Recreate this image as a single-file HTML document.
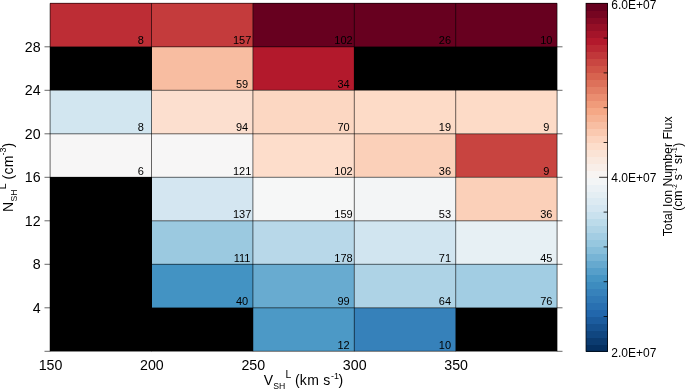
<!DOCTYPE html>
<html><head><meta charset="utf-8"><title>Total Ion Number Flux</title>
<style>html,body{margin:0;padding:0;background:#fff}svg{display:block}text{font-family:"Liberation Sans",Arial,Helvetica,sans-serif;fill:#000}</style></head>
<body>
<svg width="685" height="389" viewBox="0 0 685 389">
<rect x="0" y="0" width="685" height="389" fill="#fff"/>
<g shape-rendering="crispEdges">
<rect x="50.10" y="3.30" width="101.70" height="43.80" fill="#bd2d35"/>
<rect x="151.50" y="3.30" width="101.70" height="43.80" fill="#c43b3c"/>
<rect x="252.90" y="3.30" width="101.70" height="43.80" fill="#67001f"/>
<rect x="354.30" y="3.30" width="101.70" height="43.80" fill="#67001f"/>
<rect x="455.70" y="3.30" width="101.40" height="43.80" fill="#67001f"/>
<rect x="50.10" y="46.80" width="101.70" height="43.80" fill="#000000"/>
<rect x="151.50" y="46.80" width="101.70" height="43.80" fill="#f8bda1"/>
<rect x="252.90" y="46.80" width="101.70" height="43.80" fill="#b3192c"/>
<rect x="354.30" y="46.80" width="101.70" height="43.80" fill="#000000"/>
<rect x="455.70" y="46.80" width="101.40" height="43.80" fill="#000000"/>
<rect x="50.10" y="90.30" width="101.70" height="43.80" fill="#d2e6f0"/>
<rect x="151.50" y="90.30" width="101.70" height="43.80" fill="#fcdfcf"/>
<rect x="252.90" y="90.30" width="101.70" height="43.80" fill="#fcd7c2"/>
<rect x="354.30" y="90.30" width="101.70" height="43.80" fill="#fddbc7"/>
<rect x="455.70" y="90.30" width="101.40" height="43.80" fill="#fddbc7"/>
<rect x="50.10" y="133.80" width="101.70" height="43.80" fill="#f7f6f6"/>
<rect x="151.50" y="133.80" width="101.70" height="43.80" fill="#f7f6f6"/>
<rect x="252.90" y="133.80" width="101.70" height="43.80" fill="#fdddcb"/>
<rect x="354.30" y="133.80" width="101.70" height="43.80" fill="#fbd0b9"/>
<rect x="455.70" y="133.80" width="101.40" height="43.80" fill="#c84440"/>
<rect x="50.10" y="177.30" width="101.70" height="43.80" fill="#000000"/>
<rect x="151.50" y="177.30" width="101.70" height="43.80" fill="#d4e6f1"/>
<rect x="252.90" y="177.30" width="101.70" height="43.80" fill="#f6f7f7"/>
<rect x="354.30" y="177.30" width="101.70" height="43.80" fill="#f3f5f6"/>
<rect x="455.70" y="177.30" width="101.40" height="43.80" fill="#fbd0b9"/>
<rect x="50.10" y="220.80" width="101.70" height="43.80" fill="#000000"/>
<rect x="151.50" y="220.80" width="101.70" height="43.80" fill="#9bc9e0"/>
<rect x="252.90" y="220.80" width="101.70" height="43.80" fill="#b8d8e9"/>
<rect x="354.30" y="220.80" width="101.70" height="43.80" fill="#d1e5f0"/>
<rect x="455.70" y="220.80" width="101.40" height="43.80" fill="#e7f0f4"/>
<rect x="50.10" y="264.30" width="101.70" height="43.80" fill="#000000"/>
<rect x="151.50" y="264.30" width="101.70" height="43.80" fill="#4393c3"/>
<rect x="252.90" y="264.30" width="101.70" height="43.80" fill="#68abd0"/>
<rect x="354.30" y="264.30" width="101.70" height="43.80" fill="#aed3e6"/>
<rect x="455.70" y="264.30" width="101.40" height="43.80" fill="#a2cde3"/>
<rect x="50.10" y="307.80" width="101.70" height="43.50" fill="#000000"/>
<rect x="151.50" y="307.80" width="101.70" height="43.50" fill="#000000"/>
<rect x="252.90" y="307.80" width="101.70" height="43.50" fill="#4c99c6"/>
<rect x="354.30" y="307.80" width="101.70" height="43.50" fill="#3681ba"/>
<rect x="455.70" y="307.80" width="101.40" height="43.50" fill="#000000"/>
</g>
<g stroke="#000" stroke-width="0.7" stroke-opacity="0.85" fill="none">
<line x1="50.10" y1="3.30" x2="50.10" y2="351.30"/>
<line x1="151.50" y1="3.30" x2="151.50" y2="351.30"/>
<line x1="252.90" y1="3.30" x2="252.90" y2="351.30"/>
<line x1="354.30" y1="3.30" x2="354.30" y2="351.30"/>
<line x1="455.70" y1="3.30" x2="455.70" y2="351.30"/>
<line x1="557.10" y1="3.30" x2="557.10" y2="351.30"/>
<line x1="50.10" y1="3.30" x2="557.10" y2="3.30"/>
<line x1="44.50" y1="46.80" x2="562.50" y2="46.80"/>
<line x1="44.50" y1="90.30" x2="562.50" y2="90.30"/>
<line x1="44.50" y1="133.80" x2="562.50" y2="133.80"/>
<line x1="44.50" y1="177.30" x2="562.50" y2="177.30"/>
<line x1="44.50" y1="220.80" x2="562.50" y2="220.80"/>
<line x1="44.50" y1="264.30" x2="562.50" y2="264.30"/>
<line x1="44.50" y1="307.80" x2="562.50" y2="307.80"/>
<line x1="44.50" y1="351.30" x2="562.50" y2="351.30"/>
</g>
<g font-size="11" text-anchor="middle">
<text x="140.70" y="44.40">8</text>
<text x="242.10" y="44.40">157</text>
<text x="343.50" y="44.40">102</text>
<text x="444.90" y="44.40">26</text>
<text x="546.30" y="44.40">10</text>
<text x="242.10" y="87.90">59</text>
<text x="343.50" y="87.90">34</text>
<text x="140.70" y="131.40">8</text>
<text x="242.10" y="131.40">94</text>
<text x="343.50" y="131.40">70</text>
<text x="444.90" y="131.40">19</text>
<text x="546.30" y="131.40">9</text>
<text x="140.70" y="174.90">6</text>
<text x="242.10" y="174.90">121</text>
<text x="343.50" y="174.90">102</text>
<text x="444.90" y="174.90">36</text>
<text x="546.30" y="174.90">9</text>
<text x="242.10" y="218.40">137</text>
<text x="343.50" y="218.40">159</text>
<text x="444.90" y="218.40">53</text>
<text x="546.30" y="218.40">36</text>
<text x="242.10" y="261.90">111</text>
<text x="343.50" y="261.90">178</text>
<text x="444.90" y="261.90">71</text>
<text x="546.30" y="261.90">45</text>
<text x="242.10" y="305.40">40</text>
<text x="343.50" y="305.40">99</text>
<text x="444.90" y="305.40">64</text>
<text x="546.30" y="305.40">76</text>
<text x="343.50" y="348.90">12</text>
<text x="444.90" y="348.90">10</text>
</g>
<g font-size="14.2" text-anchor="end">
<text x="40.6" y="51.80">28</text>
<text x="40.6" y="95.30">24</text>
<text x="40.6" y="138.80">20</text>
<text x="40.6" y="182.30">16</text>
<text x="40.6" y="225.80">12</text>
<text x="40.6" y="269.30">8</text>
<text x="40.6" y="312.80">4</text>
</g>
<g font-size="14.2" text-anchor="middle">
<text x="50.50" y="370.2">150</text>
<text x="151.90" y="370.2">200</text>
<text x="253.30" y="370.2">250</text>
<text x="354.70" y="370.2">300</text>
<text x="456.10" y="370.2">350</text>
</g>
<g>
<text x="263.8" y="385.2" font-size="14">V</text>
<text transform="translate(273.3,389.3) scale(0.875,1)" font-size="9.9">SH</text>
<text x="285.5" y="378.3" font-size="10.4">L</text>
<text x="294.9" y="385.2" font-size="14" letter-spacing="0.3">(km s</text>
<text x="331.1" y="379.2" font-size="9">-1</text>
<text x="338.5" y="385.2" font-size="14">)</text>
</g>
<g transform="translate(0,0)">
<text transform="translate(13.0,212.1) rotate(-90)" font-size="14">N</text>
<text transform="translate(16.8,201.5) rotate(-90) scale(0.875,1)" font-size="9.9">SH</text>
<text transform="translate(6.3,189.2) rotate(-90)" font-size="10.4">L</text>
<text transform="translate(13.0,179.4) rotate(-90)" font-size="14" letter-spacing="0.3">(cm</text>
<text transform="translate(6.1,155.4) rotate(-90)" font-size="9">-3</text>
<text transform="translate(13.0,147.4) rotate(-90)" font-size="14">)</text>
</g>
<g shape-rendering="crispEdges">
<rect x="586.0" y="344.34" width="21.60" height="7.26" fill="#053061"/>
<rect x="586.0" y="337.38" width="21.60" height="7.26" fill="#0b3b70"/>
<rect x="586.0" y="330.42" width="21.60" height="7.26" fill="#104680"/>
<rect x="586.0" y="323.46" width="21.60" height="7.26" fill="#16518f"/>
<rect x="586.0" y="316.50" width="21.60" height="7.26" fill="#1c5c9e"/>
<rect x="586.0" y="309.54" width="21.60" height="7.26" fill="#2267ac"/>
<rect x="586.0" y="302.58" width="21.60" height="7.26" fill="#2970b1"/>
<rect x="586.0" y="295.62" width="21.60" height="7.26" fill="#3079b6"/>
<rect x="586.0" y="288.66" width="21.60" height="7.26" fill="#3782bb"/>
<rect x="586.0" y="281.70" width="21.60" height="7.26" fill="#3d8cbf"/>
<rect x="586.0" y="274.74" width="21.60" height="7.26" fill="#4695c4"/>
<rect x="586.0" y="267.78" width="21.60" height="7.26" fill="#569fca"/>
<rect x="586.0" y="260.82" width="21.60" height="7.26" fill="#66a9cf"/>
<rect x="586.0" y="253.86" width="21.60" height="7.26" fill="#77b4d5"/>
<rect x="586.0" y="246.90" width="21.60" height="7.26" fill="#87beda"/>
<rect x="586.0" y="239.94" width="21.60" height="7.26" fill="#96c7df"/>
<rect x="586.0" y="232.98" width="21.60" height="7.26" fill="#a3cde3"/>
<rect x="586.0" y="226.02" width="21.60" height="7.26" fill="#b0d4e6"/>
<rect x="586.0" y="219.06" width="21.60" height="7.26" fill="#bcdbea"/>
<rect x="586.0" y="212.10" width="21.60" height="7.26" fill="#c9e1ee"/>
<rect x="586.0" y="205.14" width="21.60" height="7.26" fill="#d4e6f1"/>
<rect x="586.0" y="198.18" width="21.60" height="7.26" fill="#dceaf2"/>
<rect x="586.0" y="191.22" width="21.60" height="7.26" fill="#e4eef3"/>
<rect x="586.0" y="184.26" width="21.60" height="7.26" fill="#ebf1f5"/>
<rect x="586.0" y="177.30" width="21.60" height="7.26" fill="#f3f5f6"/>
<rect x="586.0" y="170.34" width="21.60" height="7.26" fill="#f8f4f2"/>
<rect x="586.0" y="163.38" width="21.60" height="7.26" fill="#f9eee8"/>
<rect x="586.0" y="156.42" width="21.60" height="7.26" fill="#fae9df"/>
<rect x="586.0" y="149.46" width="21.60" height="7.26" fill="#fbe3d5"/>
<rect x="586.0" y="142.50" width="21.60" height="7.26" fill="#fdddcb"/>
<rect x="586.0" y="135.54" width="21.60" height="7.26" fill="#fcd4bf"/>
<rect x="586.0" y="128.58" width="21.60" height="7.26" fill="#fac9b0"/>
<rect x="586.0" y="121.62" width="21.60" height="7.26" fill="#f8bea2"/>
<rect x="586.0" y="114.66" width="21.60" height="7.26" fill="#f6b394"/>
<rect x="586.0" y="107.70" width="21.60" height="7.26" fill="#f5a886"/>
<rect x="586.0" y="100.74" width="21.60" height="7.26" fill="#f09b7a"/>
<rect x="586.0" y="93.78" width="21.60" height="7.26" fill="#ea8d70"/>
<rect x="586.0" y="86.82" width="21.60" height="7.26" fill="#e37f65"/>
<rect x="586.0" y="79.86" width="21.60" height="7.26" fill="#dd715a"/>
<rect x="586.0" y="72.90" width="21.60" height="7.26" fill="#d7634f"/>
<rect x="586.0" y="65.94" width="21.60" height="7.26" fill="#d05447"/>
<rect x="586.0" y="58.98" width="21.60" height="7.26" fill="#c94641"/>
<rect x="586.0" y="52.02" width="21.60" height="7.26" fill="#c1373a"/>
<rect x="586.0" y="45.06" width="21.60" height="7.26" fill="#ba2833"/>
<rect x="586.0" y="38.10" width="21.60" height="7.26" fill="#b3192c"/>
<rect x="586.0" y="31.14" width="21.60" height="7.26" fill="#a41429"/>
<rect x="586.0" y="24.18" width="21.60" height="7.26" fill="#950f26"/>
<rect x="586.0" y="17.22" width="21.60" height="7.26" fill="#860a24"/>
<rect x="586.0" y="10.26" width="21.60" height="7.26" fill="#760521"/>
<rect x="586.0" y="3.30" width="21.60" height="7.26" fill="#67001f"/>
</g>
<rect x="586.0" y="3.30" width="21.60" height="348.00" fill="none" stroke="#000" stroke-width="0.8" stroke-opacity="0.9"/>
<g stroke="#000" stroke-width="0.8" stroke-opacity="1">
<line x1="603.60" y1="38.10" x2="607.60" y2="38.10"/>
<line x1="603.60" y1="72.90" x2="607.60" y2="72.90"/>
<line x1="603.60" y1="107.70" x2="607.60" y2="107.70"/>
<line x1="603.60" y1="142.50" x2="607.60" y2="142.50"/>
<line x1="599.10" y1="177.30" x2="607.60" y2="177.30"/>
<line x1="603.60" y1="212.10" x2="607.60" y2="212.10"/>
<line x1="603.60" y1="246.90" x2="607.60" y2="246.90"/>
<line x1="603.60" y1="281.70" x2="607.60" y2="281.70"/>
<line x1="603.60" y1="316.50" x2="607.60" y2="316.50"/>
</g>
<g font-size="12">
<text x="611.3" y="8.90">6.0E+07</text>
<text x="611.3" y="182.20">4.0E+07</text>
<text x="611.3" y="356.50">2.0E+07</text>
</g>
<text transform="translate(672.2,176.4) rotate(-90)" font-size="12.25" text-anchor="middle">Total Ion Number Flux</text>
<text transform="translate(682.1,176.8) rotate(-90)" font-size="12.25" text-anchor="middle">(cm<tspan font-size="6.3" dy="-5.4" dx="0.6">-2</tspan><tspan dy="5.4" dx="0.6"> s</tspan><tspan font-size="6.3" dy="-5.4" dx="0.6">-1</tspan><tspan dy="5.4" dx="0.6"> sr</tspan><tspan font-size="6.3" dy="-5.4" dx="0.6">-1</tspan><tspan dy="5.4" dx="0.6">)</tspan></text>
</svg>
</body></html>
